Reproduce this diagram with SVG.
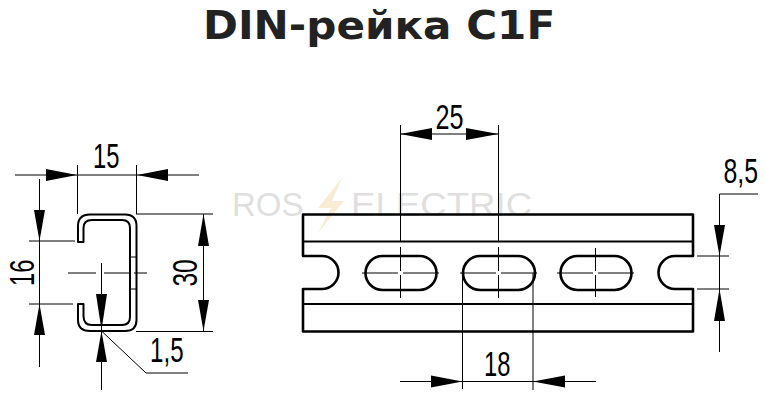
<svg xmlns="http://www.w3.org/2000/svg" width="765" height="415" viewBox="0 0 765 415">
<style>
.t{font-family:"Liberation Sans",Arial,sans-serif;font-size:35px;fill:#000}
.title{font-family:"DejaVu Sans",sans-serif;font-weight:bold;font-size:39px;fill:#222}
.wm{font-family:"Liberation Sans",Arial,sans-serif;font-size:33px;fill:#dfdfdf}
.d{fill:none;stroke:#000;stroke-width:1}
.o{fill:none;stroke:#000;stroke-width:2.600;stroke-linejoin:round}
.m{fill:none;stroke:#000;stroke-width:2}
.a{fill:#000;stroke:none}
</style>
<rect width="765" height="415" fill="#fff"/>
<text class="title" transform="translate(203,39) scale(1.08,1)">DIN-рейка C1F</text>
<g id="watermark">
<text class="wm" x="232" y="216">ROS</text>
<text class="wm" transform="translate(351,216) scale(1.11,1)">ELECTRIC</text>
<polygon points="342,178 318,208 331,208 318,233 344,201 332,201" fill="#f9ecd4"/>
</g>
<g id="profile">
<path class="o" d="M78,242V226Q78,214.500 90,214.500H125Q136.500,214.500 136.500,226V320Q136.500,331 125,331H90Q78,331 78,320V304H83.500V316Q83.500,325 92,325H122Q130,325 130,317V228Q130,220 122,220H92Q83.500,220 83.500,228V242Z" style="stroke-width:2"/>
<path class="d" d="M130,257H136M130,289H136"/>
</g>
<g id="rail">
<path class="o" d="M303,214.500H693V256H675A16.500,16.500 0 0 0 675,289H693V331.500H303V289H322A16.500,16.500 0 0 0 322,256H303Z"/>
<path class="m" d="M303,241.500H693M303,304H693"/>
<rect class="o" x="365.500" y="256" width="71" height="34" rx="17"/>
<rect class="o" x="463" y="256" width="72" height="34" rx="17"/>
<rect class="o" x="560.500" y="256" width="71" height="34" rx="17"/>
</g>
<g id="connectors">
<path class="d" d="M15,175H199M77.500,165V214M136.500,165V214"/>
<polygon class="a" points="77,175 46,169 46,181"/>
<polygon class="a" points="137,175 168,169 168,181"/>
<path class="d" d="M39.500,179V367M29,241H75M29,304H73"/>
<polygon class="a" points="39.500,241 34,210 45,210"/>
<polygon class="a" points="39.500,304 34,335 45,335"/>
<path class="d" d="M203.500,214V331M136,214H213M136,331.500H213"/>
<polygon class="a" points="203.500,214 198,246 209,246"/>
<polygon class="a" points="203.500,331 198,300 209,300"/>
<path class="d" d="M68,273H96M104,273H130M134,273H147M101.500,263V331M101.500,331V390M101.500,331L146,373H188"/>
<polygon class="a" points="101.500,330 96,294 107,294"/>
<polygon class="a" points="101.500,331 96,362 107,362"/>
<path class="d" d="M400.500,125V242M498.500,125V242M400,134H498.500"/>
<polygon class="a" points="400,134 432,128 432,140"/>
<polygon class="a" points="498.500,134 466,128 466,140"/>
<path class="d" d="M400.500,247V271M400.500,275V298M362,273H398M403,273H439M498.500,247V271M498.500,275V298M460,273H496M501,273H537M595.500,248V271M595.500,275V297M557,273H593M598,273H634"/>
<path class="d" d="M462.500,273V389M533,273V390M400,381.500H596"/>
<polygon class="a" points="462.500,381.500 431,375.500 431,387.500"/>
<polygon class="a" points="533,381.500 565,375.500 565,387.500"/>
<path class="d" d="M758,194H719.500V352M697,256H729M697,289H729"/>
<polygon class="a" points="719.500,256 714,225 725,225"/>
<polygon class="a" points="719.500,289 714,321 725,321"/>
</g>
<g id="labels">
<text class="t" transform="translate(93,168) scale(.68,1)">15</text>
<text class="t" transform="translate(435.500,129) scale(.72,1)">25</text>
<text class="t" transform="translate(484,376) scale(.68,1)">18</text>
<text class="t" transform="translate(723.500,183) scale(.71,1)">8,5</text>
<text class="t" transform="translate(150,362) scale(.69,1)">1,5</text>
<text class="t" transform="translate(34,286) rotate(-90) scale(.68,1)">16</text>
<text class="t" transform="translate(197,286.500) rotate(-90) scale(.70,1)">30</text>
</g>
</svg>
